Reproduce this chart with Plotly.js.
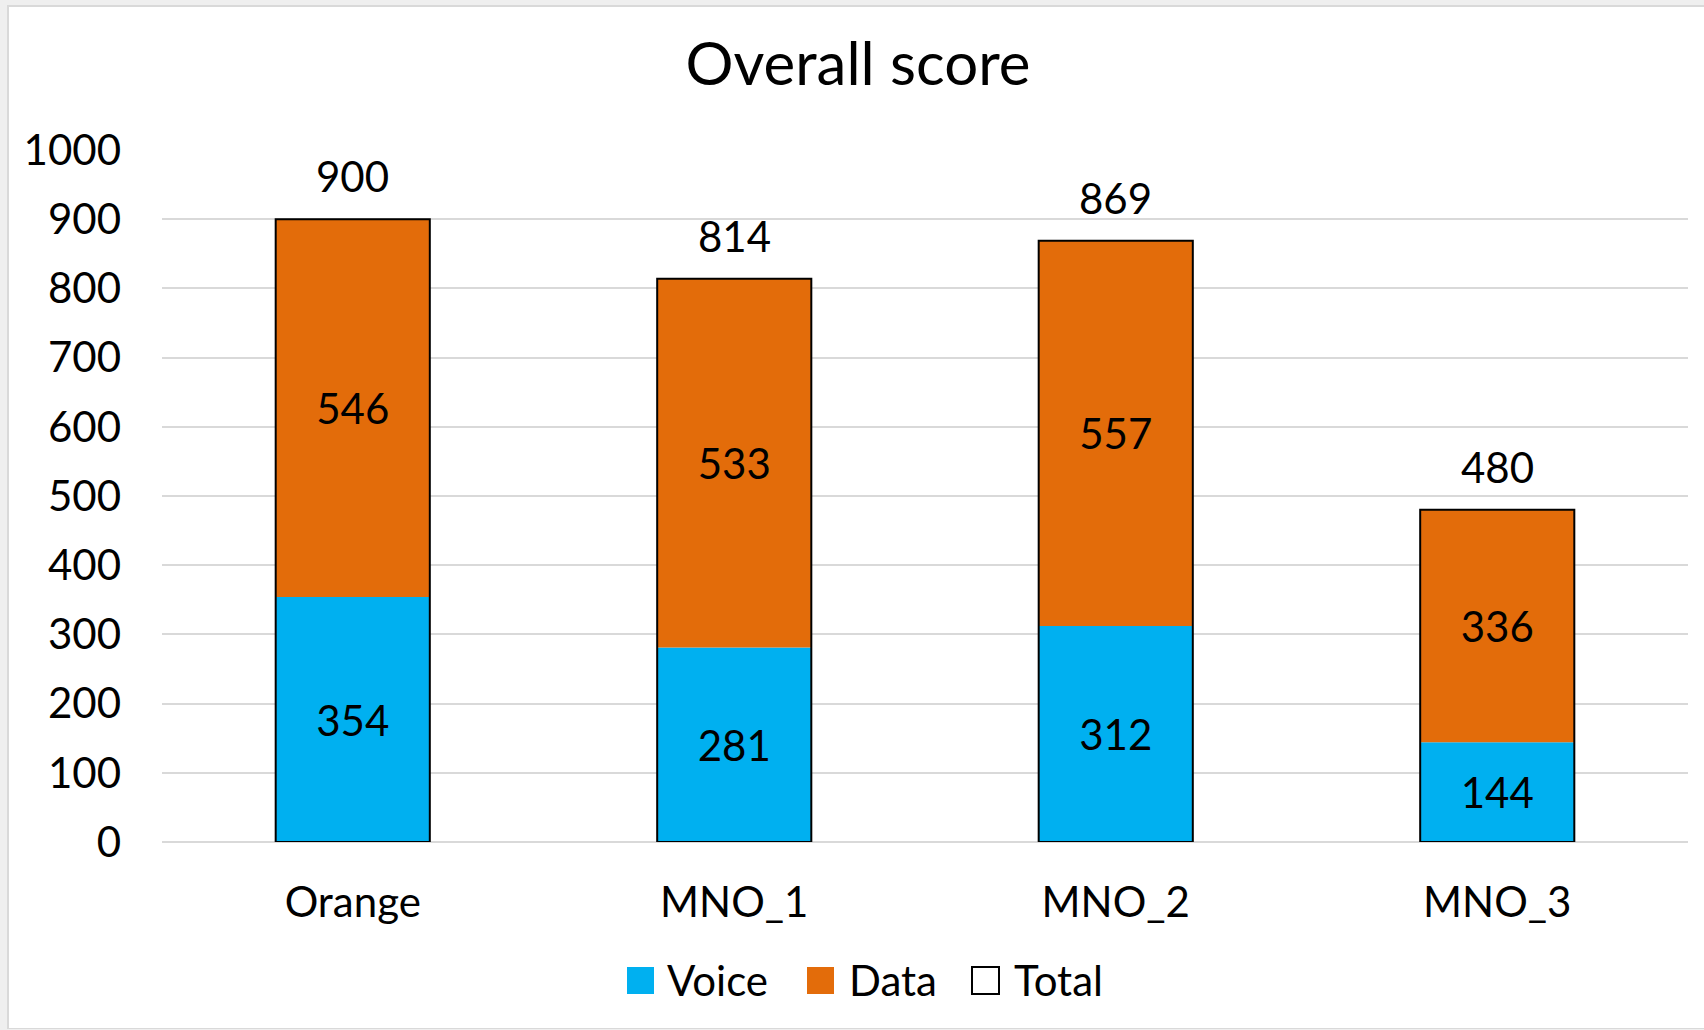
<!DOCTYPE html>
<html>
<head>
<meta charset="utf-8">
<script src="https://cdn.plot.ly/plotly-3.0.1.min.js"></script>
<style>
  html, body { margin: 0; padding: 0; width: 1704px; height: 1030px; overflow: hidden; background: #efefef; }
  #frame { position: absolute; left: 7px; top: 5px; width: 1697px; height: 1024px; background: #ffffff; border-left: 2px solid #d9d9d9; border-top: 2px solid #d9d9d9; border-bottom: 1px solid #d9d9d9; box-sizing: border-box; }
  #chart { position: absolute; left: 0; top: 0; width: 1704px; height: 1030px; }
</style>
</head>
<body>
<div id="frame"></div>
<div id="chart"></div>
<script>
const categories = ["Orange", "MNO_1", "MNO_2", "MNO_3"];
const voice = [354, 281, 312, 144];
const data = [546, 533, 557, 336];
const total = [900, 814, 869, 480];
const yTicks = [0, 100, 200, 300, 400, 500, 600, 700, 800, 900, 1000];
const seriesNames = ["Voice", "Data", "Total"];
const seriesColors = ["#00b0f0", "#e36c0a", "rgba(255,255,255,0)"];

const FONT = "Lato, 'Open Sans', sans-serif";
const LABEL_SIZE = 42;

// plot area geometry (pixels) used for legend placement
const M = { l: 162, r: 16, t: 150, b: 188 };
const W = 1704, H = 1030;
const PW = W - M.l - M.r, PH = H - M.t - M.b;
const px = v => (v - M.l) / PW;
const py = v => (H - M.b - v) / PH;

const traces = [
  {
    type: "bar", name: seriesNames[0], x: categories, y: voice, base: 0,
    marker: { color: seriesColors[0], line: { width: 0 } },
    text: voice.map(String), textposition: "inside", insidetextanchor: "middle",
    textangle: 0, insidetextfont: { family: FONT, size: LABEL_SIZE, color: "#000000" },
    hoverinfo: "skip", showlegend: false
  },
  {
    type: "bar", name: seriesNames[1], x: categories, y: data, base: voice,
    marker: { color: seriesColors[1], line: { width: 0 } },
    text: data.map(String), textposition: "inside", insidetextanchor: "middle",
    textangle: 0, insidetextfont: { family: FONT, size: LABEL_SIZE, color: "#000000" },
    hoverinfo: "skip", showlegend: false
  },
  {
    type: "bar", name: seriesNames[2], x: categories, y: total, base: 0,
    marker: { color: seriesColors[2], line: { color: "#000000", width: 2 } },
    hoverinfo: "skip", showlegend: false
  }
];

const annotations = categories.map((c, i) => ({
  x: c, y: total[i], xref: "x", yref: "y", text: String(total[i]),
  showarrow: false, yanchor: "bottom", yshift: 16,
  font: { family: FONT, size: LABEL_SIZE, color: "#000000" }
}));

// legend (drawn manually so the swatches can match the reference size)
const legendSwatchX = [627, 807, 972];
const legendTextX = [665, 847, 1012];
const legendTop = 967, legendBottom = 994, legendMid = 980;
const shapes = [];
seriesNames.forEach((n, i) => {
  shapes.push({
    type: "rect", xref: "paper", yref: "paper",
    x0: px(legendSwatchX[i]), x1: px(legendSwatchX[i] + 27),
    y0: py(legendBottom), y1: py(legendTop),
    fillcolor: i === 2 ? "#ffffff" : seriesColors[i],
    line: { color: i === 2 ? "#000000" : seriesColors[i], width: i === 2 ? 2 : 0 }
  });
  annotations.push({
    x: px(legendTextX[i]), y: py(legendMid), xref: "paper", yref: "paper",
    xanchor: "left", yanchor: "middle", text: n, showarrow: false,
    font: { family: FONT, size: LABEL_SIZE, color: "#000000" }
  });
});

const layout = {
  width: W, height: H,
  paper_bgcolor: "rgba(0,0,0,0)", plot_bgcolor: "rgba(0,0,0,0)",
  margin: M,
  barmode: "overlay", bargap: 0.596,
  font: { family: FONT, size: LABEL_SIZE, color: "#000000" },
  title: {
    text: "Overall score", font: { family: FONT, size: 60, color: "#000000" },
    x: px(858), xanchor: "center", xref: "paper", y: 1 - 64 / 1030, yanchor: "middle", yref: "container"
  },
  xaxis: {
    type: "category", showgrid: false, zeroline: false, showline: false, ticks: "",
    tickfont: { family: FONT, size: LABEL_SIZE, color: "#000000" }, ticklabelstandoff: 32
  },
  yaxis: {
    range: [0, 1000], tickvals: yTicks, ticktext: yTicks.map(String),
    showgrid: true, gridcolor: "#d9d9d9", gridwidth: 2,
    zeroline: true, zerolinecolor: "#d9d9d9", zerolinewidth: 2,
    showline: false, ticks: "",
    tickfont: { family: FONT, size: LABEL_SIZE, color: "#000000" }, ticklabelstandoff: 40
  },
  showlegend: false,
  shapes: shapes,
  annotations: annotations
};

Plotly.newPlot("chart", traces, layout, { displayModeBar: false, staticPlot: true });
</script>
</body>
</html>
